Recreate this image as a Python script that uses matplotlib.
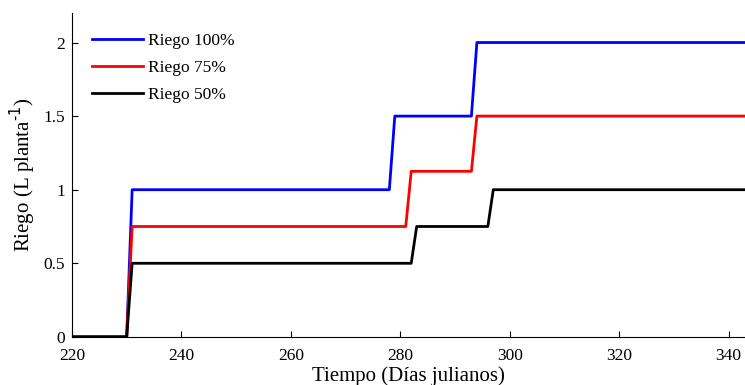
import matplotlib
matplotlib.use("Agg")
import matplotlib.pyplot as plt

# breakpoints (day, riego L/planta)
dias_100 = [220, 230, 231, 278, 279, 293, 294, 343]
riego_100 = [0, 0, 1.0, 1.0, 1.5, 1.5, 2.0, 2.0]

dias_75 = [220, 230, 231, 281, 282, 293, 294, 343]
riego_75 = [0, 0, 0.75, 0.75, 1.125, 1.125, 1.5, 1.5]

dias_50 = [220, 230, 231, 282, 283, 296, 297, 343]
riego_50 = [0, 0, 0.5, 0.5, 0.75, 0.75, 1.0, 1.0]

xticks = [220, 240, 260, 280, 300, 320, 340]
yticks = [0, 0.5, 1, 1.5, 2]
yticklabels = ["0", "0.5", "1", "1.5", "2"]

plt.rcParams['font.family'] = ['Liberation Serif', 'DejaVu Serif']

fig = plt.figure(figsize=(7.45, 3.85), dpi=100)
ax = fig.add_axes([0.0966, 0.125, 0.9034, 0.841])

ax.plot(dias_100, riego_100, color='#0000ff', lw=2, label='Riego 100%')
ax.plot(dias_75, riego_75, color='#ff0000', lw=2, label='Riego 75%')
ax.plot(dias_50, riego_50, color='black', lw=2, label='Riego 50%')

ax.set_xlim(220, 343)
ax.set_ylim(0, 2.2)
ax.set_xticks(xticks)
ax.set_yticks(yticks)
ax.set_yticklabels(yticklabels)
ax.tick_params(direction='in', labelsize=12.5, length=4)
ax.tick_params(axis='x', pad=8)
ax.tick_params(axis='y', pad=5)
ax.spines['top'].set_visible(False)
ax.spines['right'].set_visible(False)

ax.set_xlabel('Tiempo (Días julianos)', fontsize=15, labelpad=2)
ax.set_ylabel('Riego (L planta$^{\\text{-1}}$)', fontsize=15, labelpad=4)

ax.legend(loc='upper left', frameon=False, fontsize=12.5, handlelength=2.9,
          handletextpad=0.3, borderaxespad=0.3, bbox_to_anchor=(0.012, 0.975),
          labelspacing=0.6)

fig.savefig('out.png', dpi=100)
